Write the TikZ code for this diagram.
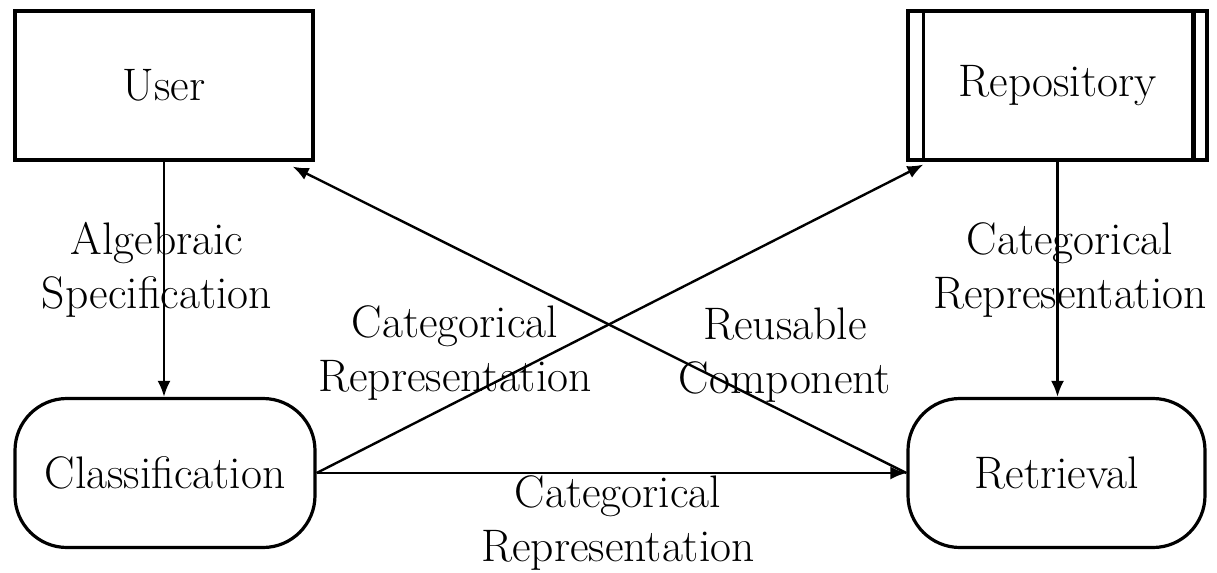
\documentclass[tikz,border=0pt]{standalone}
\usetikzlibrary{arrows.meta,calc}
\begin{document}
\begin{tikzpicture}[x=0.5pt,y=-0.5pt,
  txt/.style={font=\fontsize{22.8}{27}\selectfont},
  lab/.style={txt,align=center,inner sep=0pt},
  box/.style={txt,draw,line width=1.6pt,minimum width=149pt,minimum height=74.5pt,inner sep=0pt},
  term/.style={box,rounded corners=26pt,minimum width=150pt},
  conn/.style={line width=1.2pt,-{Latex[length=8pt,width=6.5pt]}}]
\useasboundingbox (0,0) rectangle (1217,573);
\node[box] (user) at (164,85.5) {User};
\node[box,minimum width=149.5pt] (repo) at (1057.5,85.5) {Repository};
\draw[line width=1.6pt] ([xshift=8.5pt]repo.north west) -- ([xshift=8.5pt]repo.south west);
\draw[line width=2.2pt] ([xshift=-7.5pt]repo.north east) -- ([xshift=-7.5pt]repo.south east);
\node[term] (cls) at (165,473) {Classification};
\node[term,minimum width=148.5pt] (ret) at (1056.5,473) {Retrieval};
\draw[conn] (user.south) -- (user.south |- cls.north);
\draw[conn] (repo.south) -- (repo.south |- ret.north);
\draw[conn] (cls.east) -- (ret.west);
\draw[conn] (cls.east) -- ([xshift=8.5pt,yshift=-1.5pt]repo.south west);
\draw[conn] (ret.west) -- ([xshift=-11pt,yshift=-2.5pt]user.south east);
\node[lab] (l1) at (157,270) {Algebraic\\Specification};
\node[lab] (l2) at (1070,270) {Categorical\\Representation};
\node[lab] (l3) at (455,353) {Categorical\\Representation};
\node[lab] (l4) at (785,355) {Reusable\\Component};
\node[lab] (l5) at (618,523) {Categorical\\Representation};
\end{tikzpicture}
\end{document}
